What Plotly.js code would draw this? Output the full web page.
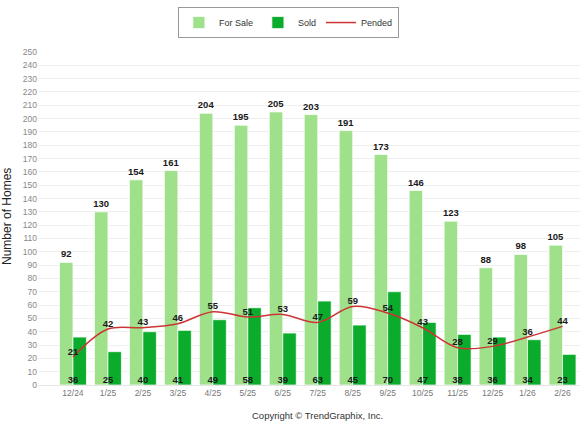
<!DOCTYPE html>
<html>
<head>
<meta charset="utf-8">
<script src="https://cdn.plot.ly/plotly-3.0.1.min.js"></script>
<style>html,body{margin:0;padding:0;background:#fff;}#chart{width:584px;height:438px;}</style>
</head>
<body>
<div id="chart"></div>
<script>
var months = ["12/24","1/25","2/25","3/25","4/25","5/25","6/25","7/25","8/25","9/25","10/25","11/25","12/25","1/26","2/26"];
var forSale = [92,130,154,161,204,195,205,203,191,173,146,123,88,98,105];
var sold = [36,25,40,41,49,58,39,63,45,70,47,38,36,34,23];
var pended = [21,42,43,46,55,51,53,47,59,54,43,28,29,36,44];
var yTicks = [0,10,20,30,40,50,60,70,80,90,100,110,120,130,140,150,160,170,180,190,200,210,220,230,240,250];

var REG = "Liberation Sans, Arial, sans-serif";
var labelFont = {family:REG, size:9.5, color:"#1a1a1a", weight:"bold"};

var traces = [
  {type:"bar", name:"For Sale", x:months, y:forSale, text:forSale.map(String),
   textposition:"outside", cliponaxis:false, constraintext:"none",
   textfont:labelFont, outsidetextfont:labelFont,
   marker:{color:"#9fe08b", line:{color:"rgba(255,255,255,0.7)", width:1}}, hoverinfo:"none"},
  {type:"bar", name:"Sold", x:months, y:sold, textposition:"none",
   marker:{color:"#0bab2b", line:{color:"rgba(255,255,255,0.7)", width:1}}, hoverinfo:"none"},
  {type:"scatter", name:"Pended", x:months, y:pended, mode:"lines+text", text:pended.map(String),
   textposition:"top center", cliponaxis:false, textfont:labelFont,
   line:{color:"#cc3535", width:1.5, shape:"spline", smoothing:1}, hoverinfo:"none"},
  {type:"scatter", name:"soldLabels", showlegend:false, x:months, y:months.map(function(){return 0;}),
   mode:"text", text:sold.map(String), textposition:"top center", cliponaxis:false,
   textfont:labelFont, hoverinfo:"none"}
];

var layout = {
  width:584, height:438,
  margin:{l:38, r:4, t:52, b:53},
  paper_bgcolor:"#fff", plot_bgcolor:"#fff",
  barmode:"group", bargap:0.23, bargroupgap:0,
  showlegend:true,
  legend:{orientation:"h", x:0.462, xanchor:"center", y:1.135, yanchor:"top",
    bordercolor:"#999", borderwidth:1, bgcolor:"#fff", itemgap:4, tracegroupgap:0,
    font:{family:REG, size:9, color:"#333"}, itemwidth:30, traceorder:"normal"},
  xaxis:{type:"category", range:[-1,14.5], showgrid:false, zeroline:false,
    showline:true, linecolor:"#e6e6e6", linewidth:1,
    tickfont:{family:REG, size:8.5, color:"#777"}, ticks:"", ticklen:0},
  yaxis:{range:[0,250], tickvals:yTicks, showgrid:true, gridcolor:"#efefef", gridwidth:1,
    zeroline:false, showline:false, ticks:"",
    tickfont:{family:REG, size:8.5, color:"#888"}},
  annotations:[
    {text:"Number of Homes", xref:"paper", yref:"paper", x:-(38-7)/542, y:0.5045,
     xanchor:"center", yanchor:"middle", textangle:-90, showarrow:false,
     font:{family:REG, size:12, color:"#222"}},
    {text:"Copyright © TrendGraphix, Inc.", xref:"paper", yref:"paper",
     x:(317-38)/542, y:-(415-385)/333, xanchor:"center", yanchor:"middle", showarrow:false,
     font:{family:REG, size:9.5, color:"#333"}}
  ]
};

Plotly.newPlot("chart", traces, layout, {displayModeBar:false, staticPlot:true});
</script>
</body>
</html>
